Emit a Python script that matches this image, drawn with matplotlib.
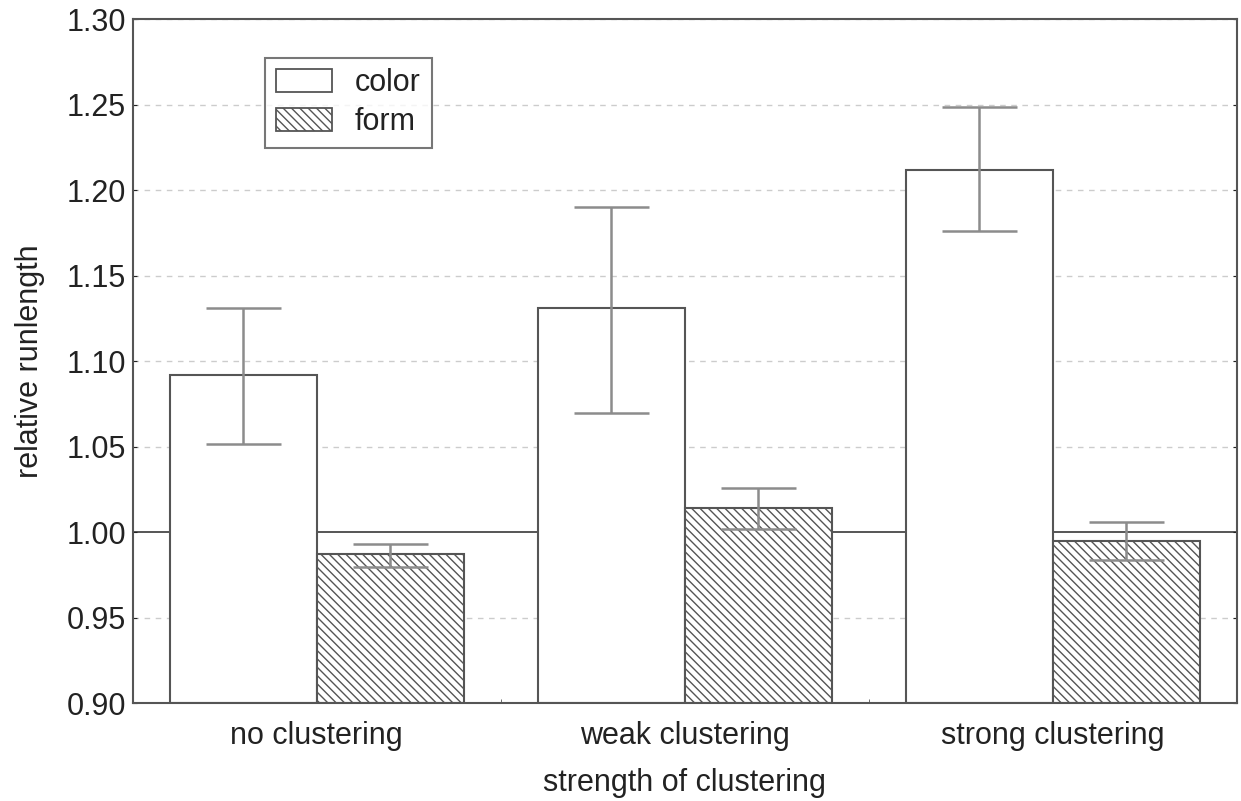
import numpy as np
import matplotlib
matplotlib.use("Agg")
import matplotlib.pyplot as plt
from matplotlib.patches import Patch

plt.rcParams['font.family'] = ['Liberation Sans', 'DejaVu Sans']
plt.rcParams['hatch.linewidth'] = 1.0
plt.rcParams['hatch.color'] = '#555555'

groups = ["no clustering", "weak clustering", "strong clustering"]
color_mean = [1.092, 1.131, 1.212]
color_lo = [1.0515, 1.070, 1.176]
color_hi = [1.131, 1.190, 1.2485]
form_mean = [0.987, 1.014, 0.995]
form_lo = [0.9795, 1.002, 0.984]
form_hi = [0.993, 1.026, 1.006]

x = np.arange(len(groups))
w = 0.4
edge = '#555555'
errc = '#8c8c8c'

fig = plt.figure(figsize=(12.41, 8.01), dpi=100)
ax = fig.add_axes([0.107, 0.122, 0.8897, 0.854])

# dashed grid and the solid reference line at 1.0
for yv in np.arange(0.95, 1.30, 0.05):
    if abs(yv - 1.0) > 1e-6:
        ax.axhline(yv, color='#cccccc', lw=1.0, ls=(0, (4, 4)), zorder=0)
ax.axhline(1.0, color=edge, lw=1.4, zorder=0.5)

ax.bar(x - w / 2, np.array(color_mean) - 0.9, w, bottom=0.9, color='white',
       edgecolor=edge, linewidth=1.5, zorder=2)
ax.bar(x + w / 2, np.array(form_mean) - 0.9, w, bottom=0.9, color='white',
       edgecolor=edge, linewidth=1.5, hatch='\\\\\\\\', zorder=2)

cm = np.array(color_mean)
fm = np.array(form_mean)
ax.errorbar(x - w / 2, cm, yerr=[cm - np.array(color_lo), np.array(color_hi) - cm],
            fmt='none', ecolor=errc, elinewidth=1.8, capsize=27, capthick=1.8, zorder=3)
ax.errorbar(x + w / 2, fm, yerr=[fm - np.array(form_lo), np.array(form_hi) - fm],
            fmt='none', ecolor=errc, elinewidth=1.8, capsize=27, capthick=1.8, zorder=3)

ax.set_xlim(-0.5, 2.5)
ax.set_ylim(0.9, 1.3)
ax.set_yticks(np.arange(0.90, 1.301, 0.05))
ax.set_yticklabels([f"{v:.2f}" for v in np.arange(0.90, 1.301, 0.05)])
ax.set_xticks(x)
ax.set_xticklabels(groups)
ax.set_xticks([0.5, 1.5], minor=True)
ax.tick_params(axis='both', which='major', labelsize=22, colors='#222222', length=0)
ax.tick_params(axis='y', which='major', pad=5, right=True, direction='in', length=3)
ax.tick_params(axis='x', which='major', pad=13)
ax.tick_params(axis='x', which='minor', direction='in', length=3, color=edge)

for s in ax.spines.values():
    s.set_color(edge)
    s.set_linewidth(1.5)

ax.set_xlabel("strength of clustering", fontsize=22, color='#222222', labelpad=12)
ax.set_ylabel("relative runlength", fontsize=22, color='#222222', labelpad=15)

handles = [Patch(facecolor='white', edgecolor=edge, linewidth=1.3, label='color'),
           Patch(facecolor='white', edgecolor=edge, linewidth=1.3, hatch='\\\\\\\\', label='form')]
leg = ax.legend(handles=handles, loc='upper left', bbox_to_anchor=(0.1196, 0.944),
                borderaxespad=0, fontsize=22, frameon=True, fancybox=False,
                edgecolor=edge, handlelength=1.85, handleheight=0.8,
                labelspacing=0.3, handletextpad=0.75, borderpad=0.35)
leg.get_frame().set_linewidth(1.5)
for t in leg.get_texts():
    t.set_color('#222222')

fig.savefig("out.png", dpi=100)
